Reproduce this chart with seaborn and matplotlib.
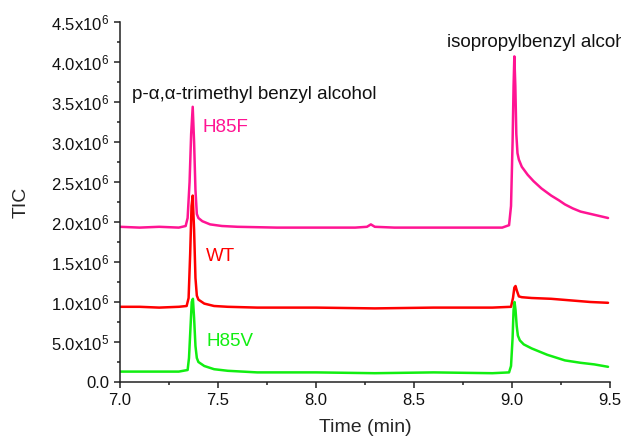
import matplotlib
matplotlib.use("Agg")
import matplotlib.pyplot as plt
import matplotlib.ticker as mticker
import numpy as np
import pandas as pd
import seaborn as sns

# ---- data (TIC in units of 1e6, time in minutes) ----
time_h85f = [7.00, 7.10, 7.20, 7.30, 7.335, 7.345, 7.355, 7.363, 7.371, 7.378, 7.385, 7.392,
             7.40, 7.42, 7.46, 7.52, 7.60, 7.80, 8.00, 8.20, 8.26, 8.28, 8.30, 8.40, 8.60,
             8.80, 8.95, 8.985, 8.995, 9.003, 9.008, 9.012, 9.017, 9.022, 9.028, 9.035,
             9.05, 9.08, 9.11, 9.15, 9.20, 9.24, 9.27, 9.31, 9.35, 9.42, 9.49]
tic_h85f = [1.94, 1.93, 1.94, 1.93, 1.95, 2.05, 2.50, 3.10, 3.44, 3.00, 2.40, 2.10,
            2.05, 2.01, 1.97, 1.95, 1.94, 1.93, 1.93, 1.93, 1.94, 1.97, 1.94, 1.93, 1.93,
            1.93, 1.93, 1.96, 2.20, 3.00, 3.70, 4.07, 3.70, 3.10, 2.86, 2.78,
            2.69, 2.59, 2.51, 2.42, 2.33, 2.27, 2.22, 2.17, 2.13, 2.09, 2.05]

time_wt = [7.00, 7.10, 7.20, 7.30, 7.34, 7.35, 7.358, 7.365, 7.371, 7.378, 7.385, 7.392,
           7.40, 7.43, 7.48, 7.55, 7.70, 8.00, 8.30, 8.60, 8.90, 8.995, 9.005, 9.012,
           9.018, 9.025, 9.035, 9.05, 9.10, 9.20, 9.30, 9.40, 9.49]
tic_wt = [0.94, 0.94, 0.93, 0.94, 0.95, 1.05, 1.60, 2.20, 2.33, 1.90, 1.30, 1.08,
          1.03, 0.98, 0.95, 0.94, 0.93, 0.93, 0.92, 0.93, 0.93, 0.94, 1.05, 1.18,
          1.20, 1.14, 1.07, 1.06, 1.05, 1.04, 1.02, 1.00, 0.99]

time_h85v = [7.00, 7.10, 7.20, 7.30, 7.345, 7.352, 7.36, 7.366, 7.372, 7.378, 7.385, 7.392,
             7.40, 7.43, 7.48, 7.55, 7.70, 8.00, 8.30, 8.60, 8.90, 8.985, 8.995, 9.003,
             9.008, 9.013, 9.018, 9.024, 9.03, 9.04, 9.06, 9.10, 9.18, 9.27, 9.35, 9.42, 9.49]
tic_h85v = [0.13, 0.13, 0.13, 0.13, 0.15, 0.30, 0.70, 1.00, 1.04, 0.80, 0.45, 0.30,
            0.25, 0.20, 0.16, 0.14, 0.12, 0.12, 0.11, 0.12, 0.11, 0.12, 0.20, 0.55,
            0.90, 1.00, 0.90, 0.70, 0.58, 0.52, 0.47, 0.42, 0.34, 0.27, 0.24, 0.22, 0.19]

samples = ["H85F", "WT", "H85V"]
colors = {"H85F": "#FF1493", "WT": "#FF0000", "H85V": "#11EE11"}
label_pos = {"H85F": (7.423, 3.175), "WT": (7.44, 1.57), "H85V": (7.44, 0.50)}
peak_names = ["p-\u03b1,\u03b1-trimethyl benzyl alcohol", "isopropylbenzyl alcohol"]
peak_label_pos = [(7.061, 3.59), (8.668, 4.25)]

x_ticks = [7.0, 7.5, 8.0, 8.5, 9.0, 9.5]

# ---- build long table ----
frames = []
for name, t, v in [("H85F", time_h85f, tic_h85f), ("WT", time_wt, tic_wt),
                   ("H85V", time_h85v, tic_h85v)]:
    frames.append(pd.DataFrame({"time": t, "tic": np.array(v) * 1e6, "sample": name}))
df = pd.concat(frames, ignore_index=True)

# ---- style ----
sns.set_style("ticks")
plt.rcParams["font.family"] = ["Liberation Sans", "DejaVu Sans"]
plt.rcParams["mathtext.fontset"] = "custom"
plt.rcParams["mathtext.rm"] = "Liberation Sans"
plt.rcParams["mathtext.default"] = "regular"

fig = plt.figure(figsize=(6.21, 4.41), dpi=100)
ax = fig.add_axes([120 / 621, 59 / 441, 490 / 621, 360 / 441])

sns.lineplot(data=df, x="time", y="tic", hue="sample", palette=colors,
             estimator=None, sort=False, legend=False, linewidth=1.8, ax=ax)

ax.set_xlim(7.0, 9.5)
ax.set_ylim(0, 4.5e6)
ax.xaxis.set_major_locator(mticker.FixedLocator(x_ticks))
ax.xaxis.set_minor_locator(mticker.MultipleLocator(0.25))
ax.yaxis.set_major_locator(mticker.MultipleLocator(0.5e6))
ax.yaxis.set_minor_locator(mticker.MultipleLocator(0.25e6))
ax.xaxis.set_major_formatter(mticker.FormatStrFormatter("%.1f"))


def yfmt(val, pos):
    if abs(val) < 1:
        return "0.0"
    e = int(np.floor(np.log10(abs(val))))
    m = val / 10 ** e
    return f"{m:.1f}x10$^{{{e}}}$"


ax.yaxis.set_major_formatter(mticker.FuncFormatter(yfmt))

for s in ["top", "right"]:
    ax.spines[s].set_visible(False)
for s in ["left", "bottom"]:
    ax.spines[s].set_linewidth(1.1)
    ax.spines[s].set_color("#222222")
ax.tick_params(which="major", direction="out", length=4.5, width=1.1, labelsize=12,
               colors="#222222", labelcolor="#111111")
ax.tick_params(which="minor", direction="out", length=2.5, width=1.1, colors="#222222")

ax.set_xlabel("Time (min)", fontsize=14, labelpad=8)
ax.set_ylabel("TIC", fontsize=14, labelpad=15)

for name in samples:
    x, y = label_pos[name]
    ax.text(x, y * 1e6, name, color=colors[name], fontsize=13.5, va="center", ha="left")
for txt, (x, y) in zip(peak_names, peak_label_pos):
    ax.text(x, y * 1e6, txt, color="#111111", fontsize=13.5, va="center", ha="left")

fig.savefig("out.png", dpi=100)
